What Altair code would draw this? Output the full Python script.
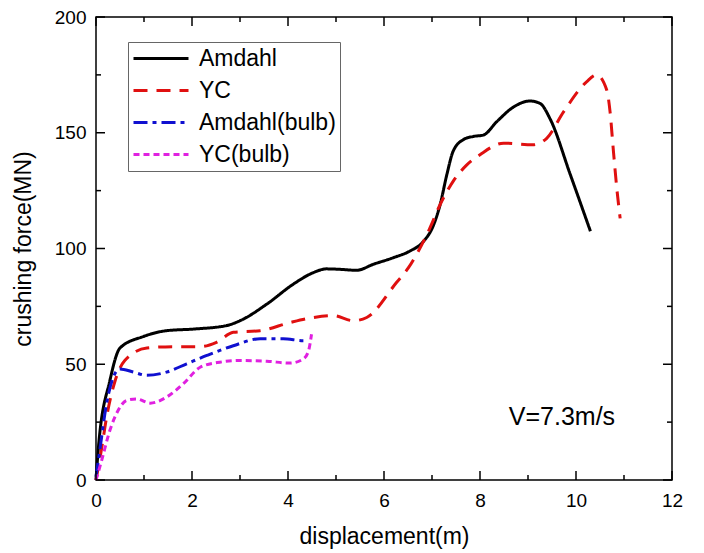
import altair as alt
import pandas as pd

FONT = "Liberation Sans"

series_names = ["Amdahl", "YC", "Amdahl(bulb)", "YC(bulb)"]
series_colors = ["#000000", "#e01010", "#1010d0", "#e020e0"]
series_dashes = [[1, 0], [14, 9], [14, 5, 4, 5], [6, 4]]

amdahl_x = [0.0, 0.05, 0.29, 0.5, 0.99, 1.47, 2.03, 2.72, 3.0, 3.56, 4.11, 4.53, 4.8, 5.08, 5.43, 5.78,
            6.19, 6.54, 6.82, 7.03, 7.17, 7.31, 7.44, 7.65, 7.86, 8.07, 8.35, 8.69, 9.04, 9.25, 9.46, 9.88, 10.3]
amdahl_y = [0.0, 14, 43, 57, 62, 64.5, 65.2, 66.7, 68.8, 76, 84.6, 89.6, 91.2, 91.0, 90.6, 93.2,
            96, 98.9, 103, 110, 119, 132, 142, 147, 148.4, 149, 154.8, 161, 163.7, 162.7, 156, 132, 107.5]

yc_x = [0.0, 0.12, 0.22, 0.4, 0.6, 1.06, 1.61, 2.17, 2.51, 2.86, 3.42, 4.04, 4.53, 4.94, 5.36, 5.64,
        6.26, 6.51, 6.68, 6.96, 7.17, 7.44, 7.72, 8.0, 8.49, 9.1, 9.39, 9.74, 10.22, 10.43, 10.64,
        10.71, 10.78, 10.85, 10.92]
yc_y = [0.0, 14, 27, 43, 51.6, 57, 57.6, 57.6, 59.5, 63.8, 64.5, 68, 70.2, 71, 68.8, 70.2,
        85.3, 91.7, 97.5, 109, 119, 129, 136, 140.5, 145.5, 144.8, 147.6, 159, 172, 175, 168.5,
        159, 142, 126, 113]

amdahl_bulb_x = [0.0, 0.08, 0.22, 0.36, 0.5, 0.78, 1.06, 1.47, 1.89, 2.31, 2.86, 3.42, 3.9, 4.32, 4.4]
amdahl_bulb_y = [1.4, 13, 33, 44.4, 48, 46.6, 45.2, 46.6, 50.2, 53.8, 58, 61, 61, 60.2, 60.4]

yc_bulb_x = [0.0, 0.12, 0.29, 0.46, 0.64, 0.85, 1.13, 1.47, 1.82, 2.17, 2.58, 3.0, 3.56, 4.04, 4.32, 4.43, 4.49]
yc_bulb_y = [0.0, 8.6, 21.5, 30, 34.4, 35, 33.2, 35.8, 41.6, 48.7, 50.9, 51.6, 51.3, 50.5, 52.3, 56, 63]

x_major = [0, 2, 4, 6, 8, 10, 12]
x_minor = [1, 3, 5, 7, 9, 11]
y_major = [0, 50, 100, 150, 200]
y_minor = [25, 75, 125, 175]

note_x = [8.6]
note_y = [27.2]
note_text = ["V=7.3m/s"]

X_DOMAIN = [0, 12]
Y_DOMAIN = [0, 200]
W, H = 576, 463
MAJ, MIN = 9, 5  # tick lengths in px

rows = []
for name, xs_, ys_ in [("Amdahl", amdahl_x, amdahl_y), ("YC", yc_x, yc_y),
                       ("Amdahl(bulb)", amdahl_bulb_x, amdahl_bulb_y), ("YC(bulb)", yc_bulb_x, yc_bulb_y)]:
    for i, (a, b) in enumerate(zip(xs_, ys_)):
        rows.append({"series": name, "x": a, "y": b, "order": i})
df = pd.DataFrame(rows)
note_df = pd.DataFrame({"x": note_x, "y": note_y, "t": note_text})

# inward tick marks drawn as custom-path point symbols at the axis tick values
# (path unit = sqrt(size)/2 px, so size = (2*length)^2)
tick_rows = []
for vals, length in [(x_major, MAJ), (x_minor, MIN)]:
    for v in vals:
        tick_rows.append({"x": v, "y": Y_DOMAIN[0], "shape": "M0,0V-2", "size": length ** 2})
        tick_rows.append({"x": v, "y": Y_DOMAIN[1], "shape": "M0,0V2", "size": length ** 2})
for vals, length in [(y_major, MAJ), (y_minor, MIN)]:
    for v in vals:
        tick_rows.append({"x": X_DOMAIN[0], "y": v, "shape": "M0,0H2", "size": length ** 2})
        tick_rows.append({"x": X_DOMAIN[1], "y": v, "shape": "M0,0H-2", "size": length ** 2})
tick_df = pd.DataFrame(tick_rows)


def xs():
    return alt.Scale(domain=X_DOMAIN, nice=False, zero=False)


def ys():
    return alt.Scale(domain=Y_DOMAIN, nice=False, zero=False)


common_axis = dict(labelFont=FONT, titleFont=FONT, labelColor="black", titleColor="black",
                   titleFontWeight="normal", domain=False, ticks=False, grid=False, labelFlush=False,
                   labelFontSize=19, titleFontSize=23)

legend_kw = dict(title=None, orient="none", legendX=32, legendY=25,
                 labelFont=FONT, labelFontSize=23, labelColor="black",
                 symbolType="M-1,0H4", symbolStrokeWidth=3, symbolSize=484,
                 strokeColor="#666666", padding=4, rowPadding=7,
                 labelOffset=42, fillColor="white")

x_axis = alt.Axis(orient="bottom", values=x_major, title="displacement(m)",
                  labelPadding=11, titlePadding=15, **common_axis)
y_axis = alt.Axis(orient="left", values=y_major, title="crushing force(MN)",
                  labelPadding=10, titlePadding=19, **common_axis)

lines = alt.Chart(df).mark_line(strokeWidth=3, interpolate="monotone").encode(
    x=alt.X("x:Q", scale=xs(), axis=x_axis),
    y=alt.Y("y:Q", scale=ys(), axis=y_axis),
    color=alt.Color("series:N", scale=alt.Scale(domain=series_names, range=series_colors),
                    legend=alt.Legend(**legend_kw)),
    strokeDash=alt.StrokeDash("series:N", scale=alt.Scale(domain=series_names, range=series_dashes),
                              legend=alt.Legend(**legend_kw)),
    order="order:Q",
)

note = alt.Chart(note_df).mark_text(align="left", baseline="middle", font=FONT, fontSize=25,
                                     color="black").encode(x="x:Q", y="y:Q", text="t:N")

ticks = alt.Chart(tick_df).mark_point(filled=False, color="black", strokeWidth=1.5, opacity=1).encode(
    x="x:Q",
    y="y:Q",
    shape=alt.Shape("shape:N", scale=None, legend=None),
    size=alt.Size("size:Q", scale=None, legend=None),
)

chart = alt.layer(lines, note, ticks).properties(
    width=W, height=H,
    autosize=alt.AutoSizeParams(type="none"),
    padding={"left": 88, "top": 9, "right": 24, "bottom": 73},
).configure(background="white").configure_view(stroke="black", strokeWidth=1.5)

chart.save("out.html", embed_options={"renderer": "svg", "actions": False})
